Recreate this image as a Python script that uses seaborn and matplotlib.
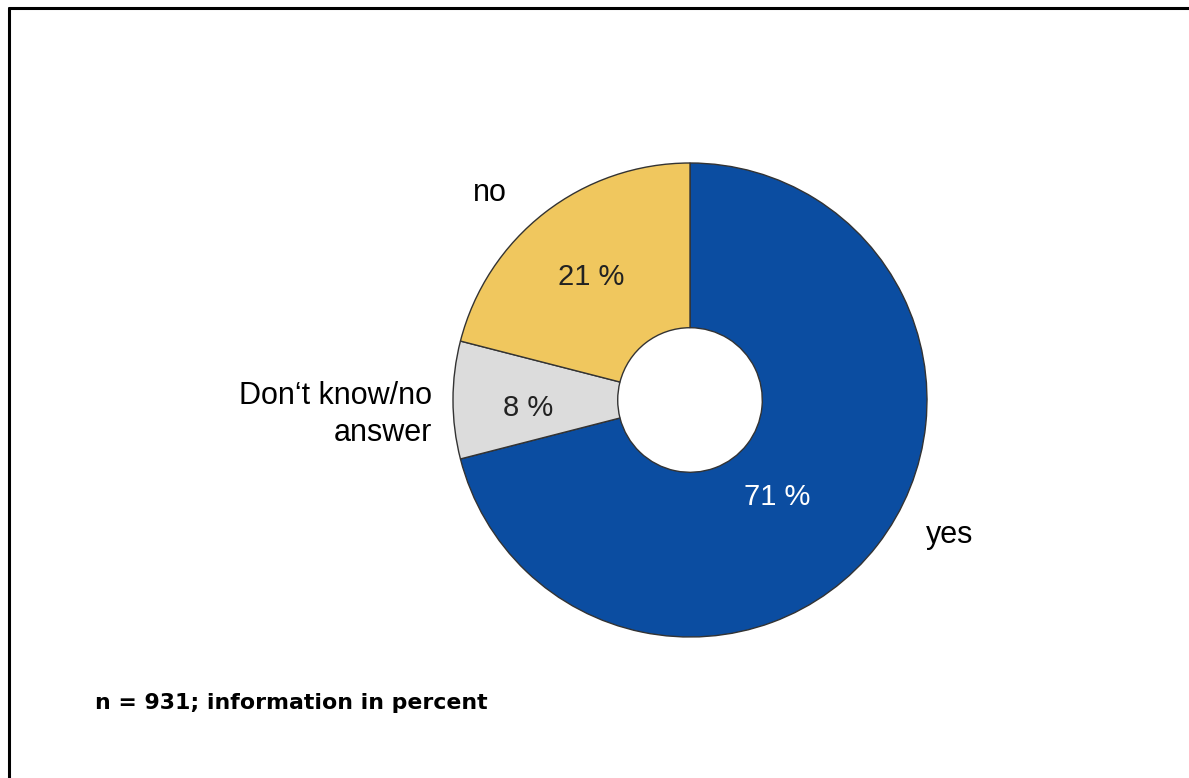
import matplotlib
matplotlib.use("Agg")
import matplotlib.pyplot as plt
import seaborn as sns
from matplotlib.lines import Line2D

# survey answers, clockwise from 12 o'clock
answers = ["yes", "Don\u2018t know/no\nanswer", "no"]
shares = [71, 8, 21]
share_labels = ["71 %", "8 %", "21 %"]
colors = ["#0B4DA1", "#DCDCDC", "#F0C75E"]
footnote = "n = 931; information in percent"


def main():
    sns.set_theme(style="white")
    plt.rcParams["font.family"] = ["Liberation Sans", "DejaVu Sans"]

    fig = plt.figure(figsize=(11.89, 7.78), dpi=100)
    W, H = 1189, 778
    cx, cy, r = 690, 400, 237
    ax = fig.add_axes([(cx - r) / W, 1 - (cy + r) / H, 2 * r / W, 2 * r / H])

    wedges, _ = ax.pie(
        shares, colors=colors, startangle=90, counterclock=False,
        radius=1, wedgeprops=dict(width=0.695, edgecolor="#333333", linewidth=1.0),
    )
    ax.set_xlim(-1, 1)
    ax.set_ylim(-1, 1)
    ax.set_aspect("equal")
    ax.axis("off")

    # percent labels inside the ring
    pct_pos = [(0.367, -0.409), (-0.684, -0.034), (-0.418, 0.519)]
    pct_col = ["white", "#222222", "#222222"]
    for (x, y), t, c in zip(pct_pos, share_labels, pct_col):
        ax.text(x, y, t, ha="center", va="center", fontsize=21, color=c)

    # category labels outside
    ax.text(1.097, -0.570, answers[0], ha="center", va="center", fontsize=22, color="black")
    ax.text(-1.089, -0.06, answers[1], ha="right", va="center", fontsize=22,
            color="black", multialignment="right", linespacing=1.3)
    ax.text(-0.844, 0.873, answers[2], ha="center", va="center", fontsize=22, color="black")

    fig.text(95 / W, 1 - 703 / H, footnote, ha="left", va="center",
             fontsize=15.8, fontweight="heavy", family="DejaVu Sans", color="black")

    # frame lines (top and left)
    fig.add_artist(Line2D([9 / W, 1], [1 - 8 / H, 1 - 8 / H], color="black", lw=2.2,
                          transform=fig.transFigure))
    fig.add_artist(Line2D([9 / W, 9 / W], [0, 1 - 8 / H], color="black", lw=2.2,
                          transform=fig.transFigure))

    fig.savefig("out.png", dpi=100, facecolor="white")
    plt.close(fig)


if __name__ == "__main__":
    main()
